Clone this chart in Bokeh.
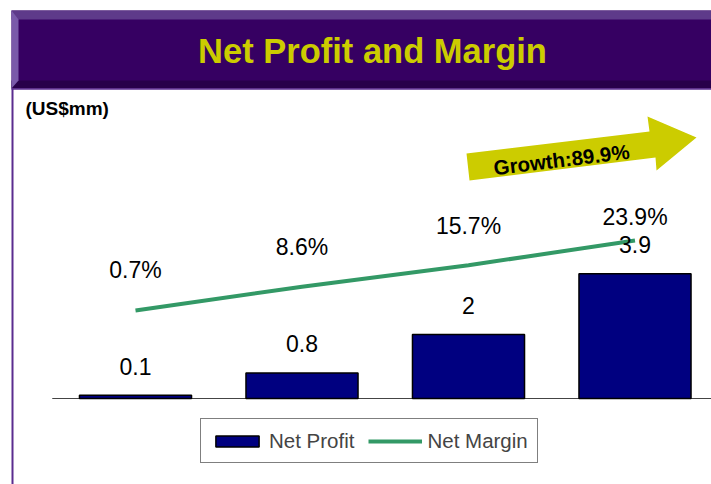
import math
from bokeh.plotting import figure
from bokeh.models import (Range1d, ColumnDataSource, LabelSet, Label, Legend,
                          LegendItem)
from bokeh.core.properties import value
from bokeh.embed import file_html
from bokeh.resources import INLINE

# ---------------- data ----------------
periods = [0, 1, 2, 3]
net_profit = [0.1, 0.8, 2, 3.9]
net_margin = [0.7, 8.6, 15.7, 23.9]
profit_labels = ["0.1", "0.8", "2", "3.9"]
margin_labels = ["0.7%", "8.6%", "15.7%", "23.9%"]
series_names = ["Net Profit", "Net Margin"]
title_text = "Net Profit and Margin"
unit_text = "(US$mm)"
growth_text = "Growth:89.9%"

# ---------------- layout constants ----------------
W, H = 711, 484
FONT = "Liberation Sans"
X0, DX = 135, 166.5          # first category centre, category spacing (px)
Y0V, KV = 398, 32.0          # baseline (px from top), px per US$mm
Y0P, KP = 312.1, 3.017       # 0% position (px from top), px per percent

p = figure(width=W, height=H, output_backend="svg", toolbar_location=None,
           x_range=Range1d(0, W), y_range=Range1d(H, 0),
           x_axis_type=None, y_axis_type=None, min_border=0,
           outline_line_color=None, background_fill_color="white",
           border_fill_color="white")
p.extra_x_ranges = {"idx": Range1d(-X0 / DX, (W - X0) / DX)}
p.extra_y_ranges = {"val": Range1d(-(H - Y0V) / KV, Y0V / KV),
                    "pct": Range1d(-(H - Y0P) / KP, Y0P / KP)}

# ---------------- header bar (decoration, pixel space) ----------------
p.quad(left=11, right=W, top=10, bottom=88, fill_color="#360062", line_color=None)
p.quad(left=11, right=W, top=10, bottom=19, fill_color="#5E3A8A", line_color=None)
p.quad(left=11, right=W, top=80, bottom=88, fill_color="#28004A", line_color=None)
p.patch(x=[11, 18, 18, 11], y=[10, 19, 80, 88], fill_color="#7A5AAA", line_color=None)
p.segment(x0=11, y0=88.5, x1=W, y1=88.5, line_color="#5B2C8F", line_width=1.5)
p.segment(x0=12, y0=88, x1=12, y1=H, line_color="#5B2C8F", line_width=2)

p.add_layout(Label(x=372, y=50, text=title_text, text_align="center",
                   text_baseline="middle", text_font=FONT, text_font_style="bold",
                   text_font_size="34.5px", text_color="#CCCC00"))
p.add_layout(Label(x=25, y=108, text=unit_text, text_align="left",
                   text_baseline="middle", text_font=FONT, text_font_style="bold",
                   text_font_size="19px", text_color="black"))

# growth arrow
p.patch(x=[466, 649, 647, 696, 656, 655, 469],
        y=[153, 131, 116, 137, 170, 157, 180],
        fill_color="#CCCC00", line_color=None)
p.add_layout(Label(x=561, y=159, text=growth_text, angle=math.radians(7),
                   text_align="center", text_baseline="middle", text_font=FONT,
                   text_font_style="bold", text_font_size="20.5px",
                   text_color="black"))

# ---------------- chart ----------------
src = ColumnDataSource(dict(x=periods, profit=net_profit, margin=net_margin,
                            plab=profit_labels, mlab=margin_labels,
                            moff=[40, 40, 39, 23]))

p.segment(x0=-0.5, y0=0, x1=3.5, y1=0, x_range_name="idx", y_range_name="val",
          line_color="#444444", line_width=1)

bars = p.vbar(x="x", top="profit", bottom=0, width=0.673, source=src,
              x_range_name="idx", y_range_name="val",
              fill_color="#000080", line_color="black", line_width=1.5)
line = p.line(x="x", y="margin", source=src, x_range_name="idx",
              y_range_name="pct", line_color="#339966", line_width=4)

p.add_layout(LabelSet(x="x", y="profit", text="plab", source=src,
                      x_range_name="idx", y_range_name="val", y_offset=29,
                      text_align="center", text_baseline="middle",
                      text_font=value(FONT), text_font_size="23px",
                      text_color="black"))
p.add_layout(LabelSet(x="x", y="margin", text="mlab", source=src,
                      x_range_name="idx", y_range_name="pct", y_offset="moff",
                      text_align="center", text_baseline="middle",
                      text_font=value(FONT), text_font_size="23px",
                      text_color="black"))

legend = Legend(items=[LegendItem(label=series_names[0], renderers=[bars]),
                       LegendItem(label=series_names[1], renderers=[line])],
                orientation="horizontal", location=(200, 21),
                border_line_color="black", border_line_width=1,
                background_fill_color="white", background_fill_alpha=1,
                label_text_font=FONT, label_text_font_size="20.5px",
                glyph_width=54, glyph_height=14, label_standoff=5,
                spacing=14, padding=9, margin=0, label_height=25)
p.add_layout(legend)

open("out.html", "w").write(file_html(p, INLINE))
